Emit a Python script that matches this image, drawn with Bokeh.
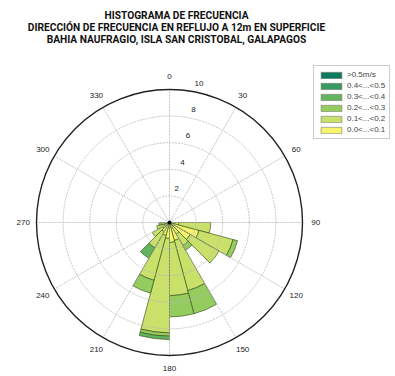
import numpy as np
from bokeh.plotting import figure
from bokeh.models import Range1d, Label, Legend, LegendItem
from bokeh.embed import file_html
from bokeh.resources import INLINE
from bokeh.core.properties import value

# ---------------- data ----------------
bin_start = [90, 105, 120, 135, 150, 165, 180, 195, 210, 225, 240, 255]
bin_width = 15
class_labels = ["0.0<...<0.1", "0.1<...<0.2", "0.2<...<0.3",
                "0.3<...<0.4", "0.4<...<0.5", ">0.5m/s"]
f_00_01 = [0.7, 2.3, 1.8, 1.0, 1.4, 1.5, 1.2, 1.0, 0.8, 0.6, 0.4, 0.3]
f_01_02 = [2.4, 2.65, 2.5, 1.0, 3.9, 4.0, 7.1, 3.5, 1.4, 0.9, 0.6, 0.3]
f_02_03 = [0.0, 0.35, 0.0, 0.4, 1.8, 1.6, 0.25, 1.0, 0.0, 0.0, 0.0, 0.2]
f_03_04 = [0.0, 0.0, 0.0, 0.0, 0.0, 0.0, 0.25, 0.0, 0.9, 0.0, 0.0, 0.0]
f_04_05 = [0.0] * 12
f_05_up = [0.0] * 12
ring_values = [2, 4, 6, 8, 10]
angle_ticks = [0, 30, 60, 90, 120, 150, 180, 210, 240, 270, 300, 330]
title_lines = ["HISTOGRAMA DE FRECUENCIA",
               "DIRECCIÓN DE FRECUENCIA EN REFLUJO A 12m EN SUPERFICIE",
               "BAHIA NAUFRAGIO, ISLA SAN CRISTOBAL, GALAPAGOS"]

colors = ["#f6f46c", "#c9e16b", "#94cc5f", "#62b45f", "#37995f", "#0b7a5c"]

# ---------------- layout ----------------
W, H = 395, 376
cx, cy = 169, 222          # centre in figure pixels (from top-left)
ppu = 13.3                 # pixels per unit

p = figure(width=W, height=H, output_backend="svg", toolbar_location=None,
           x_range=Range1d(-cx / ppu, (W - cx) / ppu),
           y_range=Range1d(-(H - cy) / ppu, cy / ppu),
           min_border=0)
p.axis.visible = False
p.xgrid.visible = False
p.ygrid.visible = False
p.outline_line_color = None
p.background_fill_color = "white"

series = [f_00_01, f_01_02, f_02_03, f_03_04, f_04_05, f_05_up]
starts = np.array(bin_start, dtype=float)
cum = np.zeros(len(bin_start))
for vals, col in zip(series, colors):
    v = np.array(vals, dtype=float)
    m = v > 0
    if m.sum() > 0:
        inner = cum[m]
        outer = (cum + v)[m]
        b = starts[m]
        sa = np.deg2rad(90 - (b + bin_width))
        ea = np.deg2rad(90 - b)
        p.annular_wedge(x=np.zeros(m.sum()), y=np.zeros(m.sum()),
                        inner_radius=inner, outer_radius=outer,
                        start_angle=sa, end_angle=ea,
                        fill_color=col, line_color="#3f5a1c", line_width=0.7)
    cum = cum + v

# grid
rmax = ring_values[-1]
p.circle(x=[0] * (len(ring_values) - 1), y=[0] * (len(ring_values) - 1),
         radius=ring_values[:-1], fill_color=None, line_color="#b8b8b8",
         line_width=0.8, line_dash="2 1")
th = np.deg2rad(angle_ticks)
p.segment(x0=np.zeros(len(th)), y0=np.zeros(len(th)),
          x1=rmax * np.sin(th), y1=rmax * np.cos(th),
          line_color="#b8b8b8", line_width=0.8, line_dash="2 1")
p.circle(x=[0], y=[0], radius=[rmax], fill_color=None, line_color="#222222",
         line_width=1.4)
p.scatter(x=[0], y=[0], size=3, color="black")

# angle labels
lr = 11.0
p.text(x=lr * np.sin(th), y=lr * np.cos(th), text=[str(a) for a in angle_ticks],
       text_font=value("Liberation Sans"), text_font_size="8px",
       text_color="#222222", text_align="center", text_baseline="middle")

# ring labels
ra = np.deg2rad(12)
rv = np.array(ring_values, dtype=float) + 0.65
p.text(x=rv * np.sin(ra), y=rv * np.cos(ra), text=[str(v) for v in ring_values],
       text_font=value("Liberation Sans"), text_font_size="8px",
       text_color="#222222", text_align="center", text_baseline="middle")

# title
for i, t in enumerate(title_lines):
    p.add_layout(Label(x=176, y=H - 15 - 12 * i, x_units="screen", y_units="screen",
                       text=t, text_font="Roboto",
                       text_font_style="bold", text_font_size="10.2px",
                       text_align="center", text_baseline="middle",
                       text_color="#111111"))

# legend (swatch-only renderers, not drawn)
swatches = []
for col in colors:
    r = p.rect(x=[0], y=[0], width=[0], height=[0], fill_color=col,
               line_color="#7a7a7a", line_width=0.6)
    r.visible = False
    swatches.append(r)
items = [LegendItem(label=lab, renderers=[rr])
         for lab, rr in zip(class_labels, swatches)][::-1]
leg = Legend(items=items, location=(313, H - 138 - 1), orientation="vertical",
             label_text_font="Liberation Sans", label_text_font_size="8px",
             label_height=8, glyph_height=8, glyph_width=26, spacing=2,
             padding=4, margin=0, label_standoff=3,
             border_line_color="#9a9a9a", border_line_width=1,
             background_fill_color="white", background_fill_alpha=1.0,
             inactive_fill_alpha=0.0, click_policy="none")
p.add_layout(leg)

open("out.html", "w").write(file_html(p, INLINE))
